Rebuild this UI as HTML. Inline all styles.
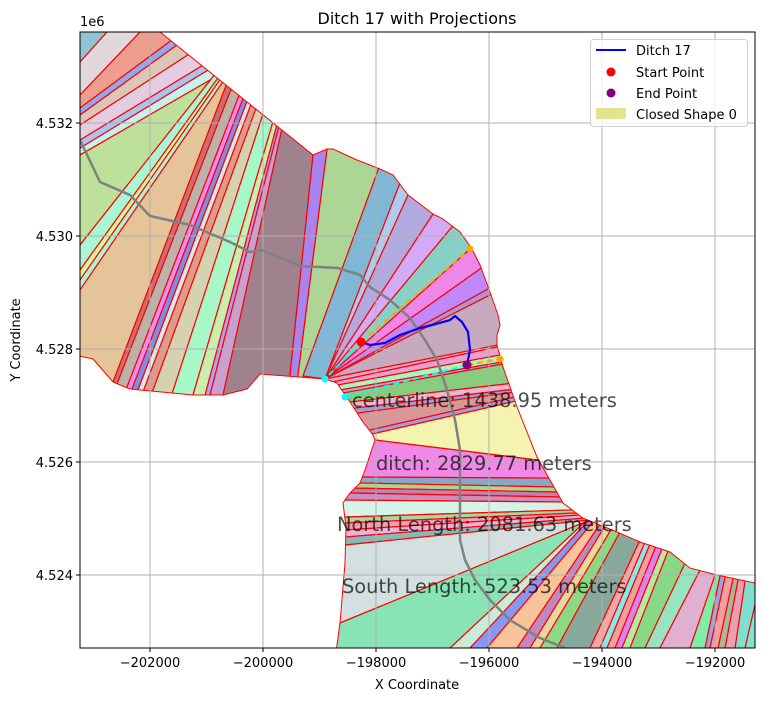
<!DOCTYPE html>
<html><head><meta charset="utf-8">
<style>
html,body{margin:0;padding:0;background:#fff;}
svg{display:block;font-family:"DejaVu Sans","Liberation Sans",sans-serif;}
</style></head>
<body>
<svg id="chart" width="765" height="701" viewBox="0 0 765 701" xmlns="http://www.w3.org/2000/svg">
<defs>
<clipPath id="plotClip"><rect x="80" y="32" width="675" height="616"/></clipPath>
<clipPath id="shapeClip"><polygon id="shapeClipPoly" points=""/></clipPath>
</defs>
<text x="417" y="24" text-anchor="middle" font-size="16" fill="#000">Ditch 17 with Projections</text>
<g id="plot" clip-path="url(#plotClip)"></g>
<g id="axes"></g>
<text x="417" y="689" text-anchor="middle" font-size="13" fill="#000">X Coordinate</text>
<text transform="translate(20,340) rotate(-90)" text-anchor="middle" font-size="13" fill="#000">Y Coordinate</text>
<text x="80" y="26" font-size="13" fill="#000">1e6</text>
<g>
<rect x="590.5" y="39.5" width="157" height="87" rx="3" fill="#fff" fill-opacity="0.8" stroke="#d0d0d0"/>
<g>
<line x1="596" y1="50" x2="626" y2="50" stroke="#0000ff" stroke-width="2"/>
<text x="636" y="55" font-size="13" fill="#000">Ditch 17</text></g>
<g>
<circle cx="611" cy="72" r="4.5" fill="#ff0000"/>
<text x="636" y="77" font-size="13" fill="#000">Start Point</text></g>
<g>
<circle cx="611" cy="93" r="4.5" fill="#800080"/>
<text x="636" y="98" font-size="13" fill="#000">End Point</text></g>
<g>
<rect x="596" y="108" width="30" height="11" fill="#d8d860" fill-opacity="0.7"/>
<text x="636" y="119" font-size="13" fill="#000">Closed Shape 0</text></g>
</g>
</svg>
<script>
// ---- data (map coordinates, metres) ----
const xTicks = [-202000,-200000,-198000,-196000,-194000,-192000];
const yTicks = [4524000,4526000,4528000,4530000,4532000];
const yTickLabels = ['4.524','4.526','4.528','4.530','4.532'];
const outlineX = [-203239,-201823,-199115,-198867,-198761,-198336,-197929,-197699,-197433,-196991,-196814,-196513,-196301,-196159,-195982,-195840,-195805,-195858,-195858,-195752,-195504,-195150,-194690,-194336,-193734,-193327,-192796,-192442,-191964,-191291,-191000,-198725,-198637,-198548,-198531,-198584,-198460,-198283,-198194,-198017,-198053,-198230,-198460,-198690,-198902,-200053,-200283,-200708,-201239,-202354,-202655,-203009,-203330,-203330,-201823];
const outlineY = [4533611,4533611,4531434,4531540,4531540,4531345,4531186,4531080,4530726,4530389,4530301,4530071,4529770,4529487,4529009,4528602,4528425,4528248,4528071,4527681,4526973,4526088,4525274,4525008,4524761,4524584,4524407,4524123,4524000,4523858,4522500,4522500,4523150,4524212,4524849,4525274,4525451,4525628,4525858,4526389,4526478,4526708,4527062,4527398,4527469,4527557,4527292,4527186,4527186,4527292,4527416,4527823,4527894,4533700,4533700];
const westLines = [
[-203500,4533400,-203100,4533800],[-203239,4533080,-202761,4533611],[-203239,4532496,-202177,4533611],[-203239,4532266,-201734,4533381],[-203239,4532142,-201646,4533292],[-203239,4531965,-201469,4533115],[-203239,4531699,-201203,4532938],[-203239,4531557,-201115,4532850],[-203239,4531434,-200938,4532761],[-203239,4529841,-200903,4532797],[-203239,4529398,-200849,4532726],[-203239,4529221,-200814,4532690],[-203239,4529044,-200761,4532655],
[-202655,4527416,-200672,4532620],[-202584,4527380,-200584,4532549],[-202407,4527327,-200442,4532443],[-202319,4527292,-200372,4532389],[-202212,4527274,-200301,4532336],[-202124,4527239,-200230,4532283],[-201965,4527221,-200141,4532212],[-201611,4527203,-200018,4532106],[-201239,4527186,-199841,4531965],[-201026,4527186,-199770,4531911],[-200938,4527186,-199734,4531876],[-200708,4527186,-199681,4531823],[-199522,4527540,-199115,4531434],[-199380,4527540,-198867,4531522],[-199292,4527522,-197964,4531168]];
const westColors = ['#8fc4d2','#e0d8dc','#ee9e8e','#8eaaee','#dcc6b8','#e4cce2','#aac4f0','#c6f2ee','#bde09a','#a8f6d4','#d8f4a0','#a8f6d4','#e4c498','#c87070','#bdb2aa','#f08cf0','#7c8ee8','#d5eaea','#e09a8a','#d4d2b0','#a6f8c8','#c8eeb0','#b0a0f8','#c8a0d0','#a0828e','#a884ec','#add696'];
const fanLines = [
[-199292,4527522,-197964,4531168],[-198902,4527469,-197575,4530938],[-198902,4527469,-197433,4530726],[-198902,4527469,-196991,4530389],[-198902,4527469,-196655,4530159],[-198902,4527469,-196336,4529770],[-198902,4527469,-196159,4529416],[-198902,4527469,-196017,4529062],[-198902,4527469,-195982,4528956],[-198902,4527469,-195840,4528071]];
const fanColors = ['#7fb7d5','#b0cbf2','#b0aadf','#d3aaf6','#88d0c6','#ee88e8','#c088f8','#a898d8','#c8aac0'];
const midLines = [
[-198902,4527469,-195840,4528071],[-198690,4527433,-195858,4528035],[-198672,4527363,-195805,4527894],[-198637,4527274,-195770,4527770],[-198584,4527221,-195752,4527734],[-198460,4527062,-195716,4527380],[-198371,4526955,-195681,4527274],[-198318,4526867,-195663,4527221],[-198106,4526566,-195628,4527132],[-198071,4526495,-195593,4527062],[-198017,4526389,-195150,4526035],[-198230,4525734,-194920,4525716],[-198283,4525628,-194831,4525557],[-198371,4525539,-194778,4525469],[-198460,4525451,-194743,4525380],[-198584,4525327,-194690,4525292],[-198548,4525026,-194566,4525150],[-198548,4524920,-194477,4525097],[-198548,4524796,-194389,4525062],[-198548,4524672,-194300,4525008],[-198548,4524531,-194212,4524973],[-198637,4523150,-194212,4524973]];
const midColors = ['#e0a8cc','#e8a0d0','#a8f5c0','#b8a8d8','#88cc80','#e8b8d0','#9aa0da','#d89898','#a0a0e0','#f4f4b0','#f088e8','#88a8c8','#a8d890','#c080b0','#c890c0','#d4f4e8','#a8d8a0','#f0a0b0','#f0b0d8','#88b8b8','#d4e0e0'];
const southLines = [
[-198637,4523150,-194212,4524973],[-196690,4522708,-194265,4524973],[-196336,4522708,-194247,4524955],[-196035,4522708,-194159,4524938],[-195504,4522708,-194035,4524902],[-195274,4522708,-193946,4524867],[-195097,4522708,-193823,4524831],[-194796,4522708,-193681,4524761],[-194212,4522708,-193327,4524619],[-194035,4522708,-193238,4524584],[-193911,4522708,-193150,4524548],[-193769,4522708,-193044,4524513],[-193646,4522708,-192938,4524460],[-193504,4522708,-192831,4524424],[-193238,4522708,-192530,4524212],[-192973,4522708,-192265,4524088],[-192442,4522708,-191999,4524000],[-192176,4522708,-191911,4523982],[-192088,4522708,-191822,4523964],[-191946,4522708,-191681,4523929],[-191822,4522708,-191592,4523911],[-191645,4522708,-191468,4523893],[-191468,4522708,-191203,4523858],[-190495,4522708,-190495,4523734]];
const southColors = ['#88e4b4','#c8ecd8','#8898f0','#f8c49c','#c088c0','#e8d8a0','#8cd884','#88a89c','#f0a8a8','#80ecec','#f0a0a0','#e080f0','#b8e8a8','#88d888','#98e4c0','#e0b0d0','#80eca8','#a0a0e0','#f0a0a0','#a8b898','#e8a0b0','#80e0d0','#80e4d4'];
const centerX = [-203239,-202885,-202354,-202000,-201292,-200584,-200230,-200018,-199345,-198672,-198283,-198106,-197752,-197398,-197132,-196920,-196743,-196601,-196513,-196513,-196513,-196424,-196247,-195982,-195628,-195097,-194654];
const centerY = [4531699,4530956,4530726,4530354,4530195,4529894,4529717,4529752,4529469,4529433,4529310,4529097,4528867,4528548,4528159,4527805,4527274,4526743,4526212,4525327,4524619,4524265,4523911,4523557,4523203,4522884,4522708];
const ditchX = [-198265,-198106,-197840,-197575,-197221,-197009,-196690,-196601,-196478,-196371,-196336,-196389];
const ditchY = [4528124,4528071,4528106,4528248,4528371,4528425,4528513,4528584,4528478,4528301,4527982,4527717];
const northProj = [-196336,4529770,-195805,4527823];
const southProj = [-198902,4527469,-198548,4527150];
const annotations = ['centerline: 1438.95 meters','ditch: 2829.77 meters','North Length: 2081.63 meters','South Length: 523.53 meters'];
const annotX = [-198425,-198000,-198690,-198602];
const annotY = [4526973,4525858,4524778,4523681];

// ---- scales ----
const X0=-203239, X1=-191292, Y0=4522708, Y1=4533611;
const PL=80, PR=755, PT=32, PB=648;
function sx(x){return PL+(x-X0)*(PR-PL)/(X1-X0);}
function sy(y){return PT+(Y1-y)*(PB-PT)/(Y1-Y0);}
const NS='http://www.w3.org/2000/svg';
function mk(tag,attrs,parent){const e=document.createElementNS(NS,tag);for(const k in attrs)e.setAttribute(k,attrs[k]);parent.appendChild(e);return e;}
const plot=document.getElementById('plot');
const axes=document.getElementById('axes');

// outline
const opts=outlineX.map((x,i)=>sx(x).toFixed(1)+','+sy(outlineY[i]).toFixed(1)).join(' ');
document.getElementById('shapeClipPoly').setAttribute('points',opts);
const base=mk('polygon',{points:opts,fill:'#c8aac0'},plot);



const shapes=mk('g',{'clip-path':'url(#shapeClip)'},plot);


function ext(l,e1,e2){const dx=l[2]-l[0],dy=l[3]-l[1];return [l[0]-dx*e1,l[1]-dy*e1,l[2]+dx*e2,l[3]+dy*e2];}
function drawGroup(lines,colors,e1,name){
  for(let i=0;i<colors.length;i++){
    const a=ext(lines[i],e1,0.6), b=ext(lines[i+1],e1,0.6);
    const pts=[[a[0],a[1]],[a[2],a[3]],[b[2],b[3]],[b[0],b[1]]].map(p=>sx(p[0]).toFixed(1)+','+sy(p[1]).toFixed(1)).join(' ');
    const p=mk('polygon',{points:pts,fill:colors[i],stroke:'#ff0000','stroke-width':1.2,'stroke-linejoin':'round'},shapes);
    
    
  }
}
drawGroup(westLines,westColors,0.6,'west');
drawGroup(fanLines,fanColors,0,'fan');
drawGroup(midLines,midColors,0.6,'middle');
drawGroup(southLines,southColors,0.6,'south');
const ol=mk('polygon',{points:opts,fill:'none',stroke:'#ff0000','stroke-width':1},plot);



// grid
xTicks.forEach(t=>{const g=mk('line',{x1:sx(t),x2:sx(t),y1:PT,y2:PB,stroke:'#b0b0b0','stroke-width':1},plot);

});
yTicks.forEach(t=>{const g=mk('line',{x1:PL,x2:PR,y1:sy(t),y2:sy(t),stroke:'#b0b0b0','stroke-width':1},plot);

});

// centerline
const cl=mk('polyline',{points:centerX.map((x,i)=>sx(x)+','+sy(centerY[i])).join(' '),fill:'none',stroke:'#808080','stroke-width':2.5,'stroke-linejoin':'round'},plot);



// projection dashed lines
const s0=[ditchX[0],ditchY[0]], e0=[ditchX[ditchX.length-1],ditchY[ditchY.length-1]];
function dash(from,tx,ty,col,name){
  const l=mk('line',{x1:sx(from[0]),y1:sy(from[1]),x2:sx(tx),y2:sy(ty),stroke:col,'stroke-width':2,'stroke-dasharray':'6,4'},plot);
  
  
  const c=mk('circle',{cx:sx(tx),cy:sy(ty),r:3.5,fill:col},plot);
  
  
}
dash(s0,northProj[0],northProj[1],'#ffa500','north-projection-start');
dash(e0,northProj[2],northProj[3],'#ffa500','north-projection-end');
dash(s0,southProj[0],southProj[1],'#00ffff','south-projection-start');
dash(e0,southProj[2],southProj[3],'#00ffff','south-projection-end');

// ditch
const dl=mk('polyline',{points:ditchX.map((x,i)=>sx(x)+','+sy(ditchY[i])).join(' '),fill:'none',stroke:'#0000ff','stroke-width':2.2,'stroke-linejoin':'round'},plot);


const sp=mk('circle',{cx:sx(s0[0]),cy:sy(s0[1]),r:4.5,fill:'#ff0000'},plot);


const ep=mk('circle',{cx:sx(e0[0]),cy:sy(e0[1]),r:4.5,fill:'#800080'},plot);



// annotations
annotations.forEach((t,i)=>{const tx=mk('text',{x:sx(annotX[i]),y:sy(annotY[i]),'font-size':19.4,fill:'#000','fill-opacity':0.7},plot);
tx.textContent=t;

});

// spines & ticks
const fr=mk('rect',{x:PL,y:PT,width:PR-PL,height:PB-PT,fill:'none',stroke:'#000','stroke-width':1},axes);


xTicks.forEach(t=>{
  const tk=mk('line',{x1:sx(t),x2:sx(t),y1:PB,y2:PB+4,stroke:'#000'},axes);
  
  
  const lb=mk('text',{x:sx(t),y:PB+19,'text-anchor':'middle','font-size':13,fill:'#000'},axes);
  lb.textContent='\u2212'+Math.abs(t);
  
  
});
yTicks.forEach((t,i)=>{
  const tk=mk('line',{x1:PL-4,x2:PL,y1:sy(t),y2:sy(t),stroke:'#000'},axes);
  
  
  const lb=mk('text',{x:PL-7,y:sy(t)+5,'text-anchor':'end','font-size':13,fill:'#000'},axes);
  lb.textContent=yTickLabels[i];
  
  
});
</script>
</body></html>
